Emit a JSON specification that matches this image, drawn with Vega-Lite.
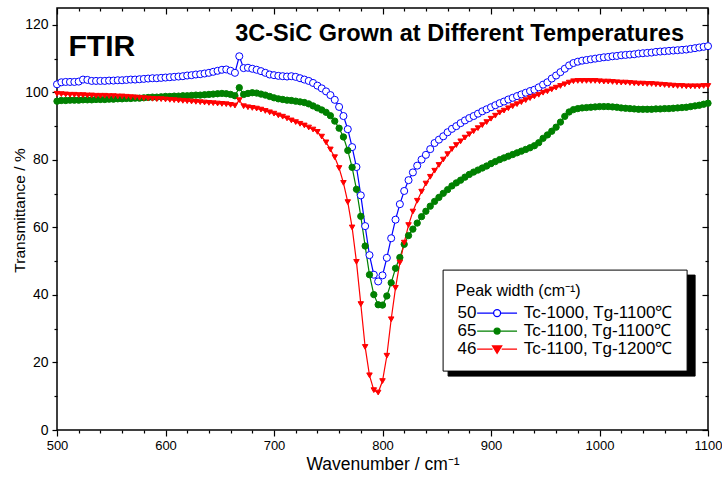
{
  "$schema": "https://vega.github.io/schema/vega-lite/v6.json",
  "width": 651,
  "height": 422,
  "autosize": {"type": "none"},
  "padding": {"left": 57, "top": 8, "right": 14, "bottom": 50},
  "background": "white",
  "title": {"text": "3C-SiC Grown at Different Temperatures", "anchor": "end", "orient": "top", "frame": "group", "offset": 0, "baseline": "alphabetic", "dy": 57, "dx": -24, "fontSize": 23.5, "fontWeight": "bold", "color": "black"},
  "datasets": {
    "ftir": [
      {"x":500,"b":102.4,"g":97.4,"r":99.6},{"x":504,"b":103.0,"g":97.6,"r":99.5},{"x":508,"b":103.1,"g":97.6,"r":99.4},{"x":512,"b":103.1,"g":97.7,"r":99.3},
      {"x":516,"b":103.1,"g":97.7,"r":99.3},{"x":520,"b":103.2,"g":97.7,"r":99.2},{"x":524,"b":103.8,"g":97.8,"r":99.2},{"x":528,"b":103.7,"g":97.8,"r":99.1},
      {"x":532,"b":103.4,"g":97.8,"r":99.1},{"x":536,"b":103.4,"g":97.9,"r":99.0},{"x":540,"b":103.4,"g":97.9,"r":99.0},{"x":544,"b":103.4,"g":97.9,"r":99.0},
      {"x":548,"b":103.5,"g":98.0,"r":98.9},{"x":552,"b":103.5,"g":98.0,"r":98.9},{"x":556,"b":103.6,"g":98.1,"r":98.8},{"x":560,"b":103.6,"g":98.1,"r":98.8},
      {"x":564,"b":103.7,"g":98.2,"r":98.7},{"x":568,"b":103.8,"g":98.2,"r":98.6},{"x":572,"b":103.8,"g":98.3,"r":98.5},{"x":576,"b":103.9,"g":98.3,"r":98.4},
      {"x":580,"b":104.0,"g":98.4,"r":98.3},{"x":584,"b":104.1,"g":98.5,"r":98.2},{"x":588,"b":104.2,"g":98.6,"r":98.1},{"x":592,"b":104.2,"g":98.6,"r":98.0},
      {"x":596,"b":104.3,"g":98.7,"r":98.0},{"x":600,"b":104.4,"g":98.8,"r":97.9},{"x":604,"b":104.5,"g":98.8,"r":97.8},{"x":608,"b":104.6,"g":98.9,"r":97.7},
      {"x":612,"b":104.7,"g":98.9,"r":97.6},{"x":616,"b":104.8,"g":99.0,"r":97.5},{"x":620,"b":105.0,"g":99.0,"r":97.4},{"x":624,"b":105.1,"g":99.1,"r":97.3},
      {"x":628,"b":105.3,"g":99.2,"r":97.2},{"x":632,"b":105.4,"g":99.2,"r":97.1},{"x":636,"b":105.6,"g":99.3,"r":97.0},{"x":640,"b":105.8,"g":99.4,"r":96.9},
      {"x":644,"b":106.1,"g":99.5,"r":96.8},{"x":648,"b":106.4,"g":99.6,"r":96.7},{"x":652,"b":106.7,"g":99.7,"r":96.6},{"x":656,"b":106.8,"g":99.6,"r":96.5},
      {"x":660,"b":106.4,"g":99.4,"r":96.3},{"x":664,"b":105.8,"g":99.0,"r":96.1},{"x":668,"b":110.7,"g":101.4,"r":97.7},{"x":672,"b":107.2,"g":99.4,"r":95.9},
      {"x":676,"b":107.3,"g":99.7,"r":95.6},{"x":680,"b":107.0,"g":99.9,"r":95.4},{"x":684,"b":106.7,"g":99.8,"r":95.2},{"x":688,"b":106.3,"g":99.5,"r":94.9},
      {"x":692,"b":105.8,"g":99.2,"r":94.5},{"x":696,"b":105.3,"g":98.8,"r":94.1},{"x":700,"b":105.1,"g":98.4,"r":93.7},{"x":704,"b":104.9,"g":98.1,"r":93.2},
      {"x":708,"b":104.8,"g":97.9,"r":92.8},{"x":712,"b":104.7,"g":97.7,"r":92.3},{"x":716,"b":104.8,"g":97.6,"r":91.7},{"x":720,"b":104.6,"g":97.4,"r":91.2},
      {"x":724,"b":104.2,"g":97.2,"r":90.7},{"x":728,"b":103.8,"g":97.0,"r":90.2},{"x":732,"b":103.4,"g":96.6,"r":89.6},{"x":736,"b":102.8,"g":96.0,"r":89.0},
      {"x":740,"b":102.0,"g":95.4,"r":88.3},{"x":744,"b":101.2,"g":94.8,"r":86.9},{"x":748,"b":100.3,"g":94.1,"r":85.2},{"x":752,"b":99.2,"g":93.1,"r":83.1},
      {"x":756,"b":97.8,"g":91.5,"r":80.8},{"x":760,"b":95.7,"g":89.4,"r":77.6},{"x":764,"b":93.0,"g":86.8,"r":73.2},{"x":768,"b":89.1,"g":82.8,"r":67.5},
      {"x":772,"b":83.8,"g":77.8,"r":60.0},{"x":776,"b":77.9,"g":71.3,"r":49.8},{"x":780,"b":69.5,"g":63.3,"r":37.3},{"x":784,"b":60.4,"g":54.5,"r":24.6},
      {"x":788,"b":51.8,"g":46.0,"r":16.2},{"x":792,"b":46.0,"g":40.1,"r":11.8},{"x":796,"b":44.0,"g":37.1,"r":11.1},{"x":800,"b":45.8,"g":37.0,"r":14.5},
      {"x":804,"b":51.0,"g":39.7,"r":22.0},{"x":808,"b":56.8,"g":43.6,"r":32.8},{"x":812,"b":62.3,"g":47.9,"r":42.1},{"x":816,"b":66.9,"g":51.1,"r":49.6},
      {"x":820,"b":70.8,"g":55.0,"r":55.5},{"x":824,"b":74.0,"g":57.6,"r":60.7},{"x":828,"b":76.3,"g":59.5,"r":64.7},{"x":832,"b":78.3,"g":61.3,"r":67.9},
      {"x":836,"b":80.1,"g":63.2,"r":70.6},{"x":840,"b":81.5,"g":64.8,"r":73.0},{"x":844,"b":83.2,"g":66.3,"r":75.0},{"x":848,"b":85.0,"g":67.7,"r":76.8},
      {"x":852,"b":86.0,"g":68.9,"r":78.5},{"x":856,"b":87.0,"g":70.1,"r":80.1},{"x":860,"b":88.2,"g":71.2,"r":81.7},{"x":864,"b":89.2,"g":72.3,"r":83.2},
      {"x":868,"b":90.0,"g":73.2,"r":84.4},{"x":872,"b":90.9,"g":74.0,"r":85.5},{"x":876,"b":91.7,"g":74.9,"r":86.6},{"x":880,"b":92.4,"g":75.7,"r":87.6},
      {"x":884,"b":93.0,"g":76.4,"r":88.5},{"x":888,"b":93.7,"g":77.0,"r":89.4},{"x":892,"b":94.4,"g":77.6,"r":90.3},{"x":896,"b":95.0,"g":78.2,"r":91.2},
      {"x":900,"b":95.6,"g":78.9,"r":92.2},{"x":904,"b":96.2,"g":79.5,"r":93.1},{"x":908,"b":96.8,"g":80.1,"r":94.0},{"x":912,"b":97.3,"g":80.6,"r":94.6},
      {"x":916,"b":97.9,"g":81.1,"r":95.3},{"x":920,"b":98.4,"g":81.6,"r":95.9},{"x":924,"b":98.9,"g":82.1,"r":96.5},{"x":928,"b":99.4,"g":82.6,"r":97.1},
      {"x":932,"b":99.9,"g":83.1,"r":97.7},{"x":936,"b":100.4,"g":83.6,"r":98.3},{"x":940,"b":100.8,"g":84.2,"r":98.8},{"x":944,"b":101.5,"g":85.1,"r":99.3},
      {"x":948,"b":102.3,"g":86.4,"r":99.9},{"x":952,"b":103.0,"g":87.4,"r":100.3},{"x":956,"b":104.1,"g":88.5,"r":100.9},{"x":960,"b":105.0,"g":89.7,"r":101.4},
      {"x":964,"b":106.0,"g":91.2,"r":101.9},{"x":968,"b":107.0,"g":92.9,"r":102.4},{"x":972,"b":108.0,"g":94.2,"r":102.9},{"x":976,"b":108.7,"g":94.9,"r":103.3},
      {"x":980,"b":109.1,"g":95.2,"r":103.4},{"x":984,"b":109.4,"g":95.4,"r":103.4},{"x":988,"b":109.6,"g":95.5,"r":103.4},{"x":992,"b":109.8,"g":95.6,"r":103.4},
      {"x":996,"b":110.0,"g":95.7,"r":103.4},{"x":1000,"b":110.2,"g":95.8,"r":103.3},{"x":1004,"b":110.4,"g":95.8,"r":103.2},{"x":1008,"b":110.5,"g":95.8,"r":103.2},
      {"x":1012,"b":110.7,"g":95.7,"r":103.1},{"x":1016,"b":110.8,"g":95.6,"r":103.0},{"x":1020,"b":111.0,"g":95.4,"r":102.9},{"x":1024,"b":111.1,"g":95.3,"r":102.9},
      {"x":1028,"b":111.2,"g":95.2,"r":102.8},{"x":1032,"b":111.3,"g":95.1,"r":102.7},{"x":1036,"b":111.5,"g":95.0,"r":102.6},{"x":1040,"b":111.6,"g":95.0,"r":102.6},
      {"x":1044,"b":111.7,"g":95.0,"r":102.5},{"x":1048,"b":111.8,"g":95.0,"r":102.5},{"x":1052,"b":112.0,"g":95.1,"r":102.4},{"x":1056,"b":112.1,"g":95.1,"r":102.3},
      {"x":1060,"b":112.2,"g":95.2,"r":102.2},{"x":1064,"b":112.3,"g":95.2,"r":102.1},{"x":1068,"b":112.4,"g":95.3,"r":102.0},{"x":1072,"b":112.5,"g":95.4,"r":101.9},
      {"x":1076,"b":112.6,"g":95.5,"r":101.9},{"x":1080,"b":112.7,"g":95.6,"r":101.8},{"x":1084,"b":112.9,"g":95.8,"r":101.8},{"x":1088,"b":113.1,"g":96.0,"r":101.8},
      {"x":1092,"b":113.3,"g":96.2,"r":101.8},{"x":1096,"b":113.5,"g":96.5,"r":101.9},{"x":1100,"b":113.7,"g":96.8,"r":101.9}
    ]
  },
  "data": {"name": "ftir"},
  "layer": [
    {
      "transform": [{"fold": ["b", "g", "r"], "as": ["key", "T"]}],
      "mark": {"type": "line", "strokeWidth": 1.2},
      "encoding": {
        "x": {"field": "x", "type": "quantitative", "scale": {"domain": [500, 1100], "nice": false, "zero": false},
              "axis": {"orient": "bottom", "values": [500, 600, 700, 800, 900, 1000, 1100], "format": "d", "tickSize": 6, "labelFontSize": 13, "labelPadding": 3, "title": "Wavenumber / cm⁻¹", "titleFontSize": 17.5, "titleFontWeight": "normal", "titlePadding": 3}},
        "y": {"field": "T", "type": "quantitative", "scale": {"domain": [0, 125], "nice": false, "zero": false},
              "axis": {"orient": "left", "values": [0, 20, 40, 60, 80, 100, 120], "tickSize": 5, "labelFontSize": 14, "labelPadding": 4, "title": "Transmittance / %", "titleFontSize": 15.5, "titleFontWeight": "normal", "titlePadding": -3, "titleY": 202}},
        "color": {"field": "key", "type": "nominal", "scale": {"domain": ["b", "g", "r"], "range": ["#0000ff", "#008000", "#ff0000"]},
                  "legend": {"title": "\u00a0", "orient": "none", "legendX": 390.6, "legendY": 266.6, "zindex": 0, "fillColor": "black", "strokeColor": "black", "symbolOpacity": 0, "symbolType": "M0,0H50.6", "labelExpr": "'\u00a0'"}}
      }
    },
    {
      "transform": [{"fold": ["b", "g", "r"], "as": ["key", "T"]}],
      "mark": {"type": "point", "strokeWidth": 1, "opacity": 1},
      "encoding": {
        "x": {"field": "x", "type": "quantitative",
              "axis": {"orient": "bottom", "values": [520, 540, 560, 580, 620, 640, 660, 680, 720, 740, 760, 780, 820, 840, 860, 880, 920, 940, 960, 980, 1020, 1040, 1060, 1080], "tickSize": 3, "labels": false, "title": null}},
        "y": {"field": "T", "type": "quantitative",
              "axis": {"orient": "left", "values": [10, 30, 50, 70, 90, 110], "tickSize": 3, "labels": false, "title": null}},
        "stroke": {"field": "key", "type": "nominal", "scale": {"domain": ["b", "g", "r"], "range": ["#0000ff", "#008000", "#ff0000"]}, "legend": null},
        "fill": {"field": "key", "type": "nominal", "scale": {"domain": ["b", "g", "r"], "range": ["#ffffff", "#008000", "#ff0000"]}, "legend": null},
        "shape": {"field": "key", "type": "nominal", "scale": {"domain": ["b", "g", "r"], "range": ["circle", "circle", "triangle-down"]}, "legend": null},
        "size": {"field": "key", "type": "ordinal", "scale": {"domain": ["b", "g", "r"], "range": [50, 30, 75]}, "legend": null},
        "order": {"field": "key", "type": "ordinal"}
      }
    },
    {
      "data": {"values": [{"t": "FTIR"}]},
      "mark": {"type": "text", "align": "left", "baseline": "alphabetic", "fontSize": 30, "fontWeight": "bold", "color": "black"},
      "encoding": {
        "x": {"datum": 510.6, "type": "quantitative",
              "axis": {"orient": "top", "values": [500, 600, 700, 800, 900, 1000, 1100], "tickSize": -6, "labels": false, "title": null}},
        "y": {"datum": 110.7, "type": "quantitative",
              "axis": {"orient": "right", "values": [0, 20, 40, 60, 80, 100, 120], "tickSize": -6, "labels": false, "title": null}},
        "text": {"field": "t"}
      }
    },
    {
      "transform": [{"fold": ["b", "g", "r"], "as": ["key", "T"]}, {"filter": "false"}],
      "mark": {"type": "point", "strokeWidth": 1.3, "opacity": 1},
      "encoding": {
        "x": {"field": "x", "type": "quantitative",
              "axis": {"orient": "top", "values": [520, 540, 560, 580, 620, 640, 660, 680, 720, 740, 760, 780, 820, 840, 860, 880, 920, 940, 960, 980, 1020, 1040, 1060, 1080], "tickSize": -3, "labels": false, "title": null}},
        "y": {"field": "T", "type": "quantitative",
              "axis": {"orient": "right", "values": [10, 30, 50, 70, 90, 110], "tickSize": -3, "labels": false, "title": null}},
        "stroke": {"field": "key", "type": "nominal", "scale": {"domain": ["b", "g", "r"], "range": ["#0000ff", "#008000", "#ff0000"]},
                   "legend": {"title": "Peak width (cm⁻¹)", "orient": "none", "legendX": 385.6, "legendY": 261.6, "zindex": 1, "labelExpr": "datum.value == 'b' ? '50\u00a0\u00a0\u00a0\u00a0\u00a0\u00a0\u00a0\u00a0\u00a0\u00a0Tc-1000, Tg-1100℃' : datum.value == 'g' ? '65\u00a0\u00a0\u00a0\u00a0\u00a0\u00a0\u00a0\u00a0\u00a0\u00a0Tc-1100, Tg-1100℃' : '46\u00a0\u00a0\u00a0\u00a0\u00a0\u00a0\u00a0\u00a0\u00a0\u00a0Tc-1100, Tg-1200℃'"}},
        "fill": {"field": "key", "type": "nominal", "scale": {"domain": ["b", "g", "r"], "range": ["#ffffff", "#008000", "#ff0000"]},
                 "legend": {"title": "Peak width (cm⁻¹)", "orient": "none", "legendX": 385.6, "legendY": 261.6, "zindex": 1, "labelExpr": "datum.value == 'b' ? '50\u00a0\u00a0\u00a0\u00a0\u00a0\u00a0\u00a0\u00a0\u00a0\u00a0Tc-1000, Tg-1100℃' : datum.value == 'g' ? '65\u00a0\u00a0\u00a0\u00a0\u00a0\u00a0\u00a0\u00a0\u00a0\u00a0Tc-1100, Tg-1100℃' : '46\u00a0\u00a0\u00a0\u00a0\u00a0\u00a0\u00a0\u00a0\u00a0\u00a0Tc-1100, Tg-1200℃'"}},
        "shape": {"field": "key", "type": "nominal", "scale": {"domain": ["b", "g", "r"], "range": [
                    "M-5.7,0H-1M1,0H5.7M-1,0A1,1,0,1,1,1,0A1,1,0,1,1,-1,0Z",
                    "M-5.7,0H-0.9M0.9,0H5.7M-0.85,0A0.85,0.85,0,1,1,0.85,0A0.85,0.85,0,1,1,-0.85,0Z",
                    "M-5.7,0H-1.3M1.3,0H5.7M-1.3,-0.9L1.3,-0.9L0,1.2Z"]},
                  "legend": {"title": "Peak width (cm⁻¹)", "orient": "none", "legendX": 385.6, "legendY": 261.6, "zindex": 1, "labelExpr": "datum.value == 'b' ? '50\u00a0\u00a0\u00a0\u00a0\u00a0\u00a0\u00a0\u00a0\u00a0\u00a0Tc-1000, Tg-1100℃' : datum.value == 'g' ? '65\u00a0\u00a0\u00a0\u00a0\u00a0\u00a0\u00a0\u00a0\u00a0\u00a0Tc-1100, Tg-1100℃' : '46\u00a0\u00a0\u00a0\u00a0\u00a0\u00a0\u00a0\u00a0\u00a0\u00a0Tc-1100, Tg-1200℃'"}}
      }
    }
  ],
  "resolve": {
    "scale": {"stroke": "independent", "fill": "independent", "shape": "independent"},
    "axis": {"x": "independent", "y": "independent"}
  },
  "config": {
    "font": "Liberation Sans",
    "view": {"stroke": "black", "strokeWidth": 1.5},
    "axis": {"grid": false, "domain": false, "tickColor": "black", "tickWidth": 1.2, "labelColor": "black", "titleColor": "black", "labelFlush": false, "labelOverlap": false, "labelBound": false},
    "legend": {
      "symbolSize": 49, "symbolOffset": 33, "labelOffset": -48, "symbolStrokeWidth": 1.3,
      "padding": 13, "fillColor": "white", "strokeColor": "black", "strokeWidth": 1,
      "titleFontSize": 16, "titleFontWeight": "normal", "titleColor": "black", "titlePadding": 6,
      "labelFontSize": 17, "labelColor": "black", "rowPadding": 0, "labelLimit": 400, "titleLimit": 400
    }
  }
}
